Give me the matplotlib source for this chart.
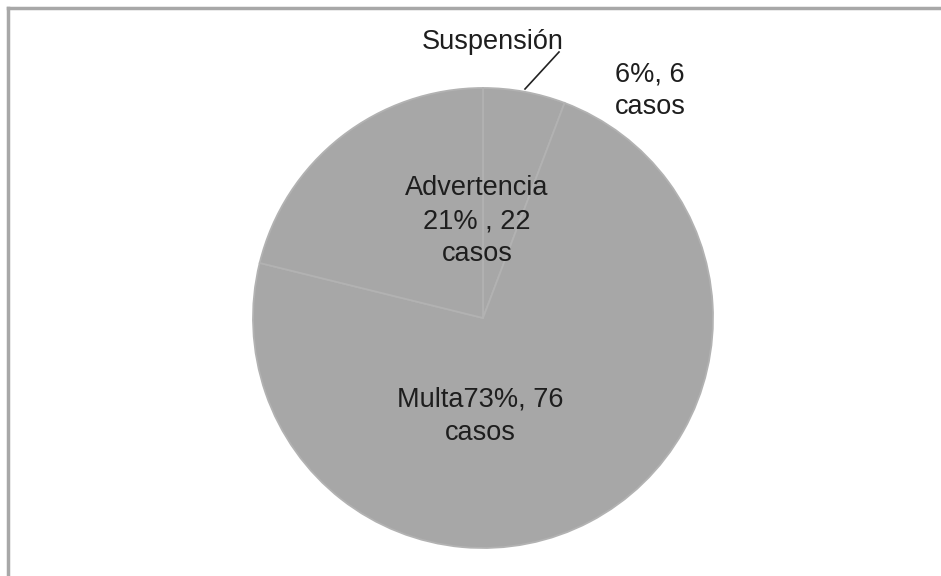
import matplotlib.pyplot as plt
from matplotlib.lines import Line2D

categories = ['Suspensión', 'Multa', 'Advertencia']
casos = [6, 76, 22]
labels = ['6%, 6\ncasos', 'Multa73%, 76\ncasos', 'Advertencia\n21% , 22\ncasos']

plt.rcParams['font.family'] = ['Liberation Sans', 'DejaVu Sans']

W, H = 941, 576
fig = plt.figure(figsize=(W / 100, H / 100), dpi=100)
ax = fig.add_axes([0, 0, 1, 1])
ax.set_xlim(0, W)
ax.set_ylim(0, H)
ax.set_aspect('equal')
ax.axis('off')

cx, cy, r = 483, H - 318, 230
wedges, _ = ax.pie(casos, startangle=90, counterclock=False, center=(cx, cy), radius=r,
                   colors=['#a7a7a7'] * 3,
                   wedgeprops=dict(edgecolor='#b2b2b2', linewidth=1.3))
ax.set_xlim(0, W)
ax.set_ylim(0, H)

txt = dict(fontsize=19.5, color='#1e1e1e', ha='center', va='center', linespacing=1.35)
ax.text(650, H - 91, labels[0], **txt)
ax.text(480, H - 416, labels[1], **txt)
ax.text(477, H - 221, labels[2], **txt)
ax.text(493, H - 42, categories[0], **txt)
ax.plot([525, 559], [H - 89, H - 52], color='#222222', lw=1.2)

# border on the left and top edges
fig.add_artist(Line2D([8 / W, 8 / W], [0, 1 - 8 / H], transform=fig.transFigure,
                      color='#a8a8a8', lw=2.5))
fig.add_artist(Line2D([8 / W, 1], [1 - 8 / H, 1 - 8 / H], transform=fig.transFigure,
                      color='#a8a8a8', lw=2.5))

fig.savefig('out.png', dpi=100)
